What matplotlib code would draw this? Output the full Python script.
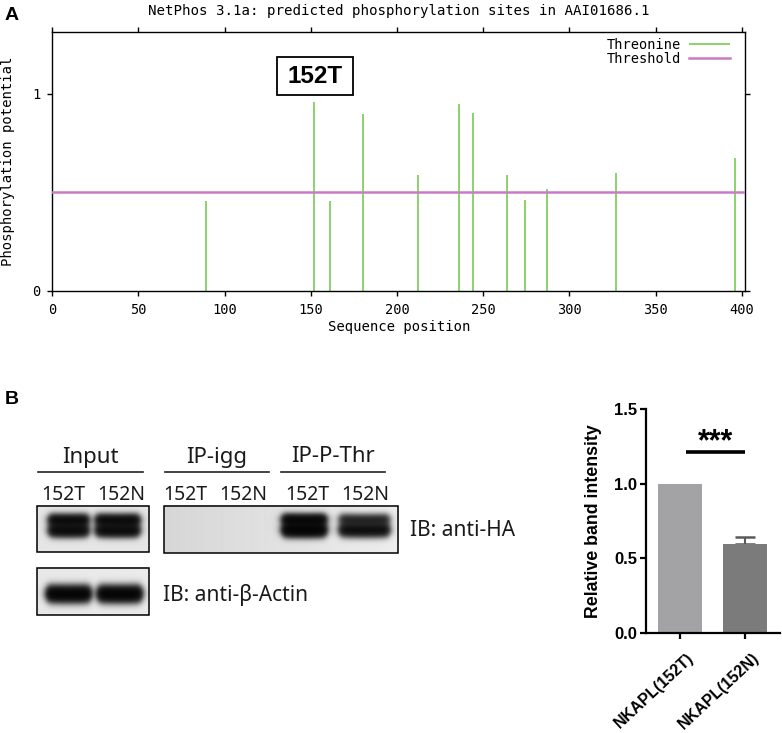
import numpy as np
import matplotlib
matplotlib.use('Agg')
import matplotlib.pyplot as plt
import matplotlib.transforms as mtransforms
from matplotlib.patches import Rectangle

# ---- panel A data (NetPhos threonine predictions) ----
site_pos = [89, 152, 161, 180, 212, 236, 244, 264, 274, 287, 327, 396]
site_score = [0.455, 0.958, 0.455, 0.896, 0.589, 0.946, 0.90, 0.589, 0.46, 0.515, 0.597, 0.676]
threshold = 0.5
x_ticks = [0, 50, 100, 150, 200, 250, 300, 350, 400]
y_ticks = [0, 1]
highlight_site = '152T'

# ---- panel B blot data (relative band strength per lane) ----
blot_groups = ['Input', 'IP-igg', 'IP-P-Thr']
blot_lanes = ['152T', '152N']
ha_upper = [[1.0, 1.0], [0.0, 0.0], [1.1, 0.6]]
ha_lower = [[1.0, 1.0], [0.0, 0.0], [1.3, 0.95]]
actin_band = [1.3, 1.3]

# ---- panel B bar data ----
bar_labels = ['NKAPL(152T)', 'NKAPL(152N)']
bar_values = [1.0, 0.593]
bar_errors = [0.0, 0.05]
bar_colors = ['#a3a3a6', '#7b7b7b']
sig_text = '***'

W, H = 782, 733
fig = plt.figure(figsize=(W / 100, H / 100), dpi=100)


def frac(x0, y0, x1, y1):
    return [x0 / W, 1 - y1 / H, (x1 - x0) / W, (y1 - y0) / H]


mono = 'DejaVu Sans Mono'
green = '#6cc644'
pink = '#c97ac2'

# ================= panel A =================
ax = fig.add_axes(frac(52.3, 32.3, 745.3, 291))
ax.vlines(site_pos, 0, site_score, color=green, lw=1.1, label='Threonine', zorder=2)
ax.axhline(threshold, color=pink, lw=1.8, label='Threshold', zorder=3)
ax.set_xlim(0, 402)
ax.set_ylim(0, 1.31)
ax.set_xticks(x_ticks)
ax.set_yticks(y_ticks)
ax.tick_params(direction='out', length=3.5, width=1, top=True, right=True,
               labelsize=9.8, pad=5)
for lab in ax.get_xticklabels() + ax.get_yticklabels():
    lab.set_family(mono)
for s in ax.spines.values():
    s.set_linewidth(1)
ax.set_xlabel('Sequence position', family=mono, fontsize=10)
ax.set_ylabel('Phosphorylation potential', family=mono, fontsize=10)
ax.xaxis.set_label_coords(0.5, -0.113)
ax.yaxis.set_label_coords(-0.054, 0.5)
leg = ax.legend(loc='upper right', bbox_to_anchor=(0.978, 0.978), frameon=False,
                markerfirst=False, handlelength=3.0, labelspacing=0.0,
                borderaxespad=0, borderpad=0, handletextpad=0.6,
                prop={'family': mono, 'size': 9.8})

# highlight box for 152T
bx, by = 152.4, 1.088
ax.add_patch(Rectangle((bx - 22, by - 0.096), 44, 0.192, fill=False, ec='black', lw=1.3,
                       clip_on=False, zorder=4))
ax.text(bx, by, highlight_site, ha='center', va='center', fontsize=17.5, fontweight='bold',
        family=['Liberation Sans Narrow', 'Liberation Sans'], zorder=5)

fig.text(399 / W, 1 - 10.5 / H, 'NetPhos 3.1a: predicted phosphorylation sites in AAI01686.1',
         ha='center', va='center', family=mono, fontsize=10.2)

# ================= overlay for labels and blot =================
ov = fig.add_axes([0, 0, 1, 1], zorder=-1)
ov.set_xlim(0, W)
ov.set_ylim(H, 0)
ov.axis('off')

ov.text(12, 15, 'A', ha='center', va='center', fontsize=14, fontweight='bold',
        family='Liberation Sans')
ov.text(12, 399, 'B', ha='center', va='center', fontsize=14, fontweight='bold',
        family='Liberation Sans')

sans = ['Noto Sans', 'DejaVu Sans']


def blot(x0, x1, y0, y1, bg_l, bg_r, bands):
    xs = np.arange(x0, x1, 0.5) + 0.25
    ys = np.arange(y0, y1, 0.5) + 0.25
    X, Y = np.meshgrid(xs, ys)
    bg = bg_l + (bg_r - bg_l) * (X - x0) / (x1 - x0)
    dens = np.zeros_like(X)
    for (c, hw, yc, sig, amp) in bands:
        px = 0.5 * (np.tanh((X - (c - hw)) / 4.0) - np.tanh((X - (c + hw)) / 4.0))
        curve = 0.015 * (X - c) ** 2 / hw
        py = np.exp(-0.5 * ((Y - yc + curve) / sig) ** 2)
        dens += amp * px * py
    img = bg * np.exp(-2.8 * dens)
    ov.imshow(img, cmap='gray', vmin=0, vmax=1, extent=(x0, x1, y1, y0),
              interpolation='bilinear', aspect='auto')
    ov.add_patch(Rectangle((x0, y0), x1 - x0, y1 - y0, fill=False, ec='black', lw=1.1))


lane_x = [[69, 118], [185, 243], [304, 364]]
label_x = [[63, 121], [185, 243], [307, 365]]
group_span = [(37.7, 142.7), (165, 269), (281, 385)]
half_w = [[19, 21], [20, 20], [21, 24]]

for g, name in enumerate(blot_groups):
    a, b = group_span[g]
    ov.plot([a, b], [472, 472], color='#222222', lw=1.2)
    ov.text((a + b) / 2, 457, name, ha='center', va='center', fontsize=16, family=sans,
            color='#1a1a1a')
    for l, lane in enumerate(blot_lanes):
        ov.text(label_x[g][l], 495, lane, ha='center', va='center', fontsize=14,
                family=sans, color='#1a1a1a')

# HA blots
input_bands = []
for l in range(2):
    input_bands.append((lane_x[0][l], half_w[0][l], 521, 4.0, ha_upper[0][l]))
    input_bands.append((lane_x[0][l], half_w[0][l], 531.5, 4.2, ha_lower[0][l]))
blot(37.3, 149, 505.7, 552.3, 0.90, 0.90, input_bands)

ip_bands = []
for g in (1, 2):
    for l in range(2):
        ip_bands.append((lane_x[g][l], half_w[g][l], 520.5, 3.8, ha_upper[g][l]))
        ip_bands.append((lane_x[g][l], half_w[g][l], 531, 4.4, ha_lower[g][l]))
blot(164, 398.3, 505.7, 553.3, 0.84, 0.93, ip_bands)

actin_bands = [(lane_x[0][l] + (0 if l == 0 else 2), 21, 594.5, 5.2, actin_band[l])
               for l in range(2)]
blot(37.3, 149, 567.7, 615, 0.91, 0.92, actin_bands)

ov.text(410, 530, 'IB: anti-HA', ha='left', va='center', fontsize=15, family=sans,
        color='#1a1a1a')
ov.text(163, 595, 'IB: anti-\u03b2-Actin', ha='left', va='center', fontsize=15, family=sans,
        color='#1a1a1a')

# ================= bar chart =================
bax = fig.add_axes(frac(646, 409.3, 780, 632.7))
xpos = np.arange(len(bar_values))
bax.bar(xpos, bar_values, width=0.672, color=bar_colors, zorder=2)
bax.errorbar(xpos[1:], bar_values[1:], yerr=[[0] * (len(xpos) - 1), bar_errors[1:]],
             fmt='none', ecolor='#5a5a5a', elinewidth=1.5, capsize=7, capthick=1.8, zorder=1)
bax.set_xlim(-0.519, 1.527)
bax.set_ylim(0, 1.5)
bax.set_yticks([0, 0.5, 1.0, 1.5])
bax.set_yticklabels(['0.0', '0.5', '1.0', '1.5'])
bax.set_xticks(xpos)
bax.set_xticklabels(bar_labels, rotation=43, ha='right', va='top', rotation_mode='anchor')
bax.spines['top'].set_visible(False)
bax.spines['right'].set_visible(False)
for s in ('left', 'bottom'):
    bax.spines[s].set_linewidth(1.6)
bax.tick_params(direction='out', length=4.5, width=1.6, labelsize=12, pad=2)
bax.tick_params(axis='x', pad=5, labelsize=11.5)
shift = mtransforms.ScaledTranslation(6 / 100, -4 / 100, fig.dpi_scale_trans)
for lab in bax.get_xticklabels():
    lab.set_transform(lab.get_transform() + shift)
for lab in bax.get_xticklabels() + bax.get_yticklabels():
    lab.set_family('Liberation Sans')
    lab.set_fontweight('bold')
bax.set_ylabel('Relative band intensity', family='Liberation Sans', fontweight='bold',
               fontsize=12.8)
bax.yaxis.set_label_coords(-0.33, 0.5)
bax.plot([0.09, 1.0], [1.212, 1.212], color='black', lw=2.6, solid_capstyle='butt')
bax.text(0.55, 1.28, sig_text, ha='center', va='center', fontsize=22, fontweight='bold',
         family='Liberation Sans')

fig.savefig('out.png', dpi=100)
